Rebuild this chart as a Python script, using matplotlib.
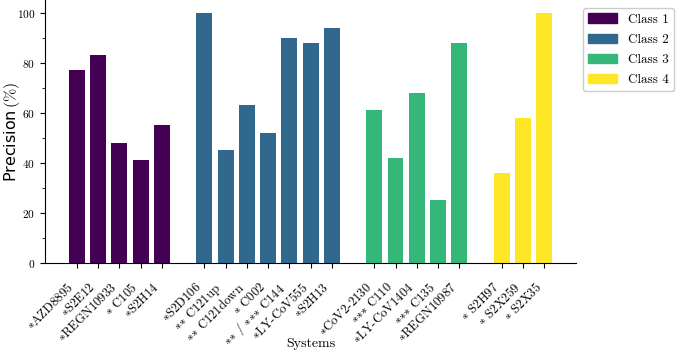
import numpy as np
import matplotlib
matplotlib.use("Agg")
import matplotlib.pyplot as plt
import matplotlib.patches as mpatches
from matplotlib.ticker import MultipleLocator

plt.rcParams['font.family'] = 'serif'
plt.rcParams['font.serif'] = ['cmr10', 'DejaVu Serif']
plt.rcParams['mathtext.fontset'] = 'cm'
plt.rcParams['axes.formatter.use_mathtext'] = True

CLASS_COLORS = ['#440154', '#31688e', '#35b779', '#fde725']
CLASS_NAMES = ['Class 1', 'Class 2', 'Class 3', 'Class 4']

# systems and precision values per class
class1_names = ['*AZD8895', '*S2E12', '*REGN10933', '* C105', '*S2H14']
class1_vals = [77, 83, 48, 41, 55]
class2_names = ['*S2D106', '** C121up', '** C121down', '* C002', '** / *** C144',
                '*LY-CoV555', '*S2H13']
class2_vals = [100, 45, 63, 52, 90, 88, 94]
class3_names = ['*CoV2-2130', '*** C110', '*LY-CoV1404', '*** C135', '*REGN10987']
class3_vals = [61, 42, 68, 25, 88]
class4_names = ['* S2H97', '* S2X259', '* S2X35']
class4_vals = [36, 58, 100]

groups = [(class1_names, class1_vals), (class2_names, class2_vals),
          (class3_names, class3_vals), (class4_names, class4_vals)]

fig = plt.figure(figsize=(6.85, 3.51), dpi=100)
ax = fig.add_axes([0.0657, 0.2507, 0.7753, 0.748])

positions = []
labels = []
start = 0
for i, (names, vals) in enumerate(groups):
    idx = np.arange(len(vals)) + start
    ax.bar(idx, vals, width=0.75, color=CLASS_COLORS[i])
    positions.extend(idx)
    labels.extend([n.replace('*', r'$\ast$') for n in names])
    start += len(vals) + 1

ax.set_xlim(-1.5, 23.5)
ax.set_ylim(0, 105)
ax.set_xticks(positions)
ax.set_xticklabels(labels, rotation=45, ha='right', fontsize=9.2)
ax.tick_params(axis='x', pad=9)
ax.yaxis.set_major_locator(MultipleLocator(20))
ax.yaxis.set_minor_locator(MultipleLocator(10))
ax.tick_params(axis='y', labelsize=8.2)
ax.spines['top'].set_visible(False)
ax.spines['right'].set_visible(False)

ax.set_xlabel('Systems', fontsize=10)
ax.xaxis.set_label_coords(0.5, -0.285)
ax.set_ylabel(r'Precision$\,(\%)$', fontsize=11.5, family='DejaVu Sans')
ax.yaxis.set_label_coords(-0.043, 0.5)

handles = [mpatches.Patch(color=c, label=n) for c, n in zip(CLASS_COLORS, CLASS_NAMES)]
ax.legend(handles=handles, loc='upper left', bbox_to_anchor=(1.013, 0.971),
          borderaxespad=0, fontsize=9.5, handlelength=2.2, labelspacing=0.6,
          framealpha=1.0)

fig.savefig('out.png', dpi=100)
